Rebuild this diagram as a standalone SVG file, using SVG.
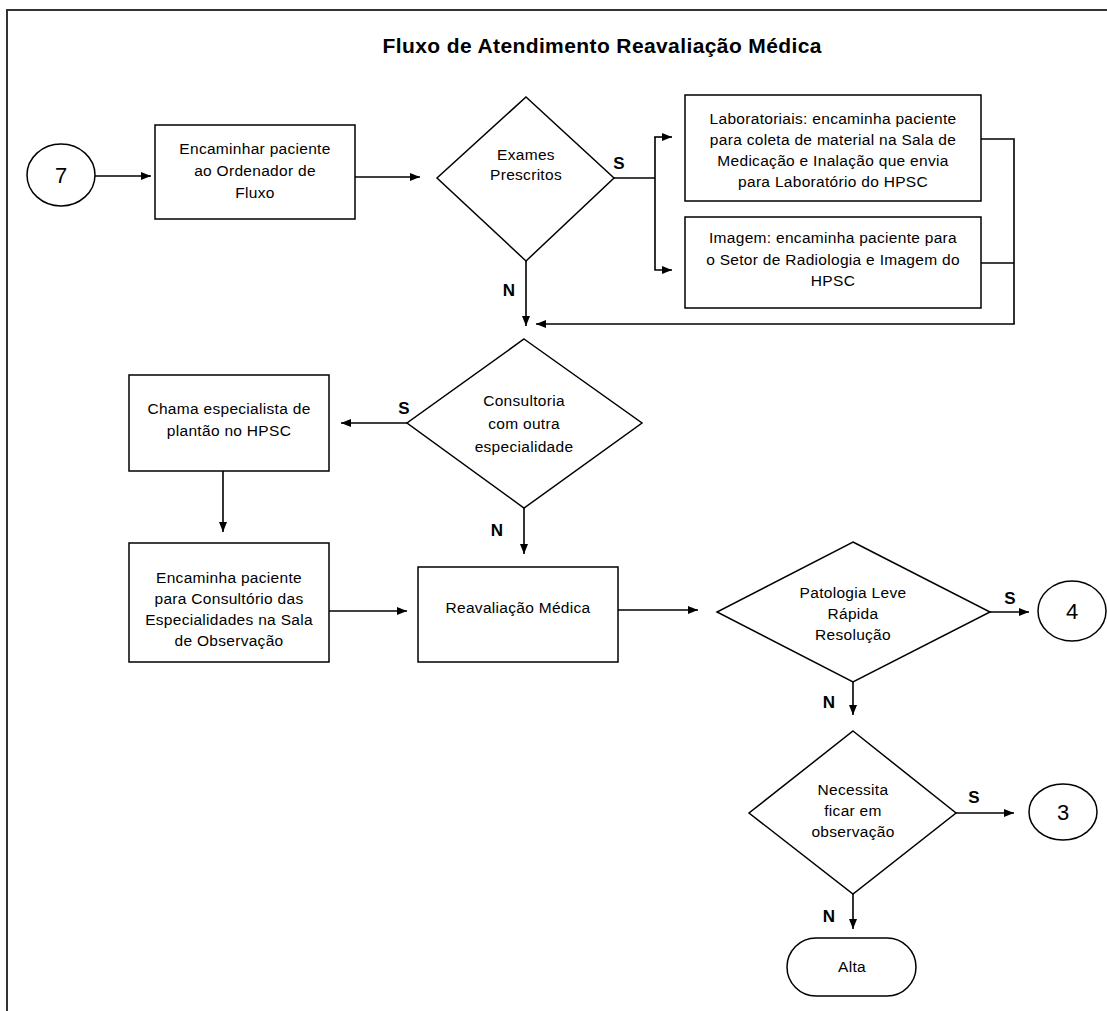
<svg xmlns="http://www.w3.org/2000/svg" width="1107" height="1011" viewBox="0 0 1107 1011">
<defs>
<style>
.shape{fill:#fff;stroke:#000;stroke-width:1.5}
.t{font-family:"Liberation Sans",Arial,sans-serif;font-size:15.5px;letter-spacing:0.3px;text-anchor:middle;fill:#000}
.lbl{font-family:"Liberation Sans",Arial,sans-serif;font-size:17px;font-weight:bold;text-anchor:middle;fill:#000}
.num{font-family:"Liberation Sans",Arial,sans-serif;font-size:22px;text-anchor:middle;fill:#000}
.title{font-family:"Liberation Sans",Arial,sans-serif;font-size:21px;font-weight:bold;text-anchor:middle;fill:#000}
.c{fill:none;stroke:#000;stroke-width:1.6}
.a{fill:none;stroke:#000;stroke-width:1.6;marker-end:url(#ah)}
</style>
<marker id="ah" markerWidth="10" markerHeight="8" refX="10" refY="4" orient="auto" markerUnits="userSpaceOnUse"><path d="M0,0 L10,4 L0,8 z" fill="#000"/></marker>
</defs>
<rect width="1107" height="1011" fill="#fff"/>
<path d="M7,1011 V10 H1107" fill="none" stroke="#333" stroke-width="2"/>
<text class="title" x="602" y="53" textLength="439" lengthAdjust="spacing">Fluxo de Atendimento Reavaliação Médica</text>

<g id="connectors">
<line class="a" x1="95" y1="176" x2="151" y2="176"/>
<line class="a" x1="355" y1="177" x2="420" y2="177"/>
<polyline class="c" points="614,178 655,178"/>
<polyline class="a" points="655,137 655,270 672,270"/>
<line class="a" x1="654.2" y1="137" x2="672" y2="137"/>
<line class="a" x1="526" y1="261" x2="526" y2="326"/>
<polyline class="c" points="981,139 1014,139 1014,324"/>
<line class="c" x1="981" y1="263" x2="1014" y2="263"/>
<line class="a" x1="1014.8" y1="324" x2="536" y2="324"/>
<line class="a" x1="407" y1="423" x2="341" y2="423"/>
<line class="a" x1="223" y1="471" x2="223" y2="532"/>
<line class="a" x1="329" y1="611" x2="407" y2="611"/>
<line class="a" x1="524" y1="508" x2="524" y2="554"/>
<line class="a" x1="618" y1="610" x2="698" y2="610"/>
<line class="a" x1="990" y1="612" x2="1029" y2="612"/>
<line class="a" x1="853" y1="682" x2="853" y2="715"/>
<line class="a" x1="956" y1="813" x2="1014" y2="813"/>
<line class="a" x1="853" y1="894" x2="853" y2="929"/>
<text class="lbl" x="619" y="169">S</text>
<text class="lbl" x="509" y="296">N</text>
<text class="lbl" x="404" y="414">S</text>
<text class="lbl" x="497" y="536">N</text>
<text class="lbl" x="1010" y="604">S</text>
<text class="lbl" x="829" y="708">N</text>
<text class="lbl" x="974" y="803">S</text>
<text class="lbl" x="829" y="922">N</text>
</g>

<g id="n7">
<ellipse class="shape" cx="61" cy="175" rx="34" ry="31"/>
<text class="num" x="61" y="183">7</text>
</g>

<g id="encaminhar">
<rect class="shape" x="155" y="125" width="200" height="94"/>
<text class="t" x="255" y="154">Encaminhar paciente</text>
<text class="t" x="255" y="176">ao Ordenador de</text>
<text class="t" x="255" y="198">Fluxo</text>
</g>

<g id="exames">
<polygon class="shape" points="526,97 614,178 526,261 437,178"/>
<text class="t" x="526" y="160">Exames</text>
<text class="t" x="526" y="180">Prescritos</text>
</g>

<g id="laboratoriais">
<rect class="shape" x="685" y="95" width="296" height="106"/>
<text class="t" x="833" y="124">Laboratoriais: encaminha paciente</text>
<text class="t" x="833" y="145">para coleta de material na Sala de</text>
<text class="t" x="833" y="166">Medicação e Inalação que envia</text>
<text class="t" x="833" y="187">para Laboratório do HPSC</text>
</g>

<g id="imagem">
<rect class="shape" x="685" y="217" width="296" height="91"/>
<text class="t" x="833" y="243">Imagem: encaminha paciente para</text>
<text class="t" x="833" y="265">o Setor de Radiologia e Imagem do</text>
<text class="t" x="833" y="286">HPSC</text>
</g>

<g id="consultoria">
<polygon class="shape" points="524,339 642,423 524,508 407,423"/>
<text class="t" x="524" y="406">Consultoria</text>
<text class="t" x="524" y="429">com outra</text>
<text class="t" x="524" y="452">especialidade</text>
</g>

<g id="chama">
<rect class="shape" x="129" y="375" width="200" height="96"/>
<text class="t" x="229" y="414">Chama especialista de</text>
<text class="t" x="229" y="436">plantão no HPSC</text>
</g>

<g id="encaminha-consultorio">
<rect class="shape" x="129" y="543" width="200" height="119"/>
<text class="t" x="229" y="583">Encaminha paciente</text>
<text class="t" x="229" y="604">para Consultório das</text>
<text class="t" x="229" y="625">Especialidades na Sala</text>
<text class="t" x="229" y="646">de Observação</text>
</g>

<g id="reavaliacao">
<rect class="shape" x="418" y="567" width="200" height="95"/>
<text class="t" x="518" y="613">Reavaliação Médica</text>
</g>

<g id="patologia">
<polygon class="shape" points="853,542 990,612 853,682 717,612"/>
<text class="t" x="853" y="598">Patologia Leve</text>
<text class="t" x="853" y="619">Rápida</text>
<text class="t" x="853" y="640">Resolução</text>
</g>

<g id="n4">
<ellipse class="shape" cx="1072" cy="611" rx="34" ry="30"/>
<text class="num" x="1072" y="619">4</text>
</g>

<g id="necessita">
<polygon class="shape" points="853,731 956,813 853,894 749,813"/>
<text class="t" x="853" y="795">Necessita</text>
<text class="t" x="853" y="816">ficar em</text>
<text class="t" x="853" y="837">observação</text>
</g>

<g id="n3">
<ellipse class="shape" cx="1063" cy="812" rx="34" ry="28"/>
<text class="num" x="1063" y="820">3</text>
</g>

<g id="alta">
<rect class="shape" x="787" y="938" width="129" height="58" rx="29" ry="29"/>
<text class="t" x="852" y="972">Alta</text>
</g>
</svg>
